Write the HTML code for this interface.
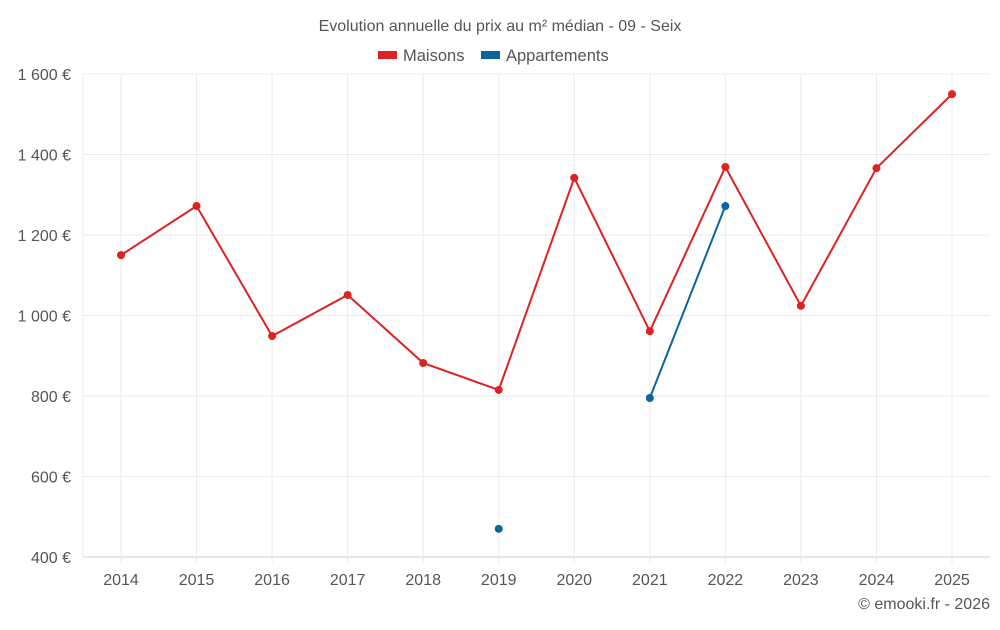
<!DOCTYPE html>
<html><head><meta charset="utf-8"><style>
body{margin:0;background:#fff;font-family:"Liberation Sans",sans-serif}
svg text{font-family:"Liberation Sans",sans-serif}
</style></head><body>
<svg id="c" width="1000" height="625">
<text x="500" y="31" text-anchor="middle" font-size="16" fill="#555">Evolution annuelle du prix au m² médian - 09 - Seix</text>
<g><rect x="378" y="51" width="19" height="8" fill="#dd2222"/><text x="403" y="61" font-size="16.5" fill="#555">Maisons</text></g>
<g><rect x="481" y="51" width="19" height="8" fill="#0b659d"/><text x="506" y="61" font-size="16.5" fill="#555">Appartements</text></g>
<text x="990" y="609" text-anchor="end" font-size="16" fill="#555">© emooki.fr - 2026</text>
<g id="plot"></g>
</svg>
<script>
const years=[2014,2015,2016,2017,2018,2019,2020,2021,2022,2023,2024,2025];
const maisons=[1150,1272,949,1051,882,815,1342,961,1369,1024,1366,1550];
const apparts=[null,null,null,null,null,470,null,795,1272,null,null,null];
const yTicks=[400,600,800,1000,1200,1400,1600];
const yLabels=["400 €","600 €","800 €","1 000 €","1 200 €","1 400 €","1 600 €"];
const L=83,R=990,T=74,B=557,NS="http://www.w3.org/2000/svg";
const step=(952-121)/(years.length-1);
const xs=i=>121+step*i;
const ys=v=>B-(v-400)/(1600-400)*(B-T);
const g=document.getElementById('plot');
function mk(t,a,p){const e=document.createElementNS(NS,t);for(const k in a)e.setAttribute(k,a[k]);(p||g).appendChild(e);return e;}
yTicks.forEach((v,i)=>{
const l=mk('line',{x1:L,x2:R,y1:ys(v),y2:ys(v),stroke:v===400?'#ccc':'#ebebeb'});


const t=mk('text',{x:71,y:ys(v)+6,'text-anchor':'end','font-size':16,fill:'#555'});t.textContent=yLabels[i];


});
mk('line',{x1:L,x2:L,y1:T,y2:B,stroke:'#ebebeb'});
years.forEach((y,i)=>{
const l=mk('line',{x1:xs(i),x2:xs(i),y1:T,y2:B+6,stroke:'#ebebeb'});


const t=mk('text',{x:xs(i),y:585,'text-anchor':'middle','font-size':16,fill:'#555'});t.textContent=y;


});
function series(vals,col,name){
let d='',pen=false;
vals.forEach((v,i)=>{if(v==null){pen=false;return;}d+=(pen?'L':'M')+xs(i)+','+ys(v);pen=true;});
const p=mk('path',{d:d,fill:'none',stroke:col,'stroke-width':2});


vals.forEach((v,i)=>{if(v==null)return;
const c=mk('circle',{cx:xs(i),cy:ys(v),r:4,fill:col});


});
}
series(maisons,'#dd2222','maisons');
series(apparts,'#0b659d','appartements');
</script>
</body></html>
